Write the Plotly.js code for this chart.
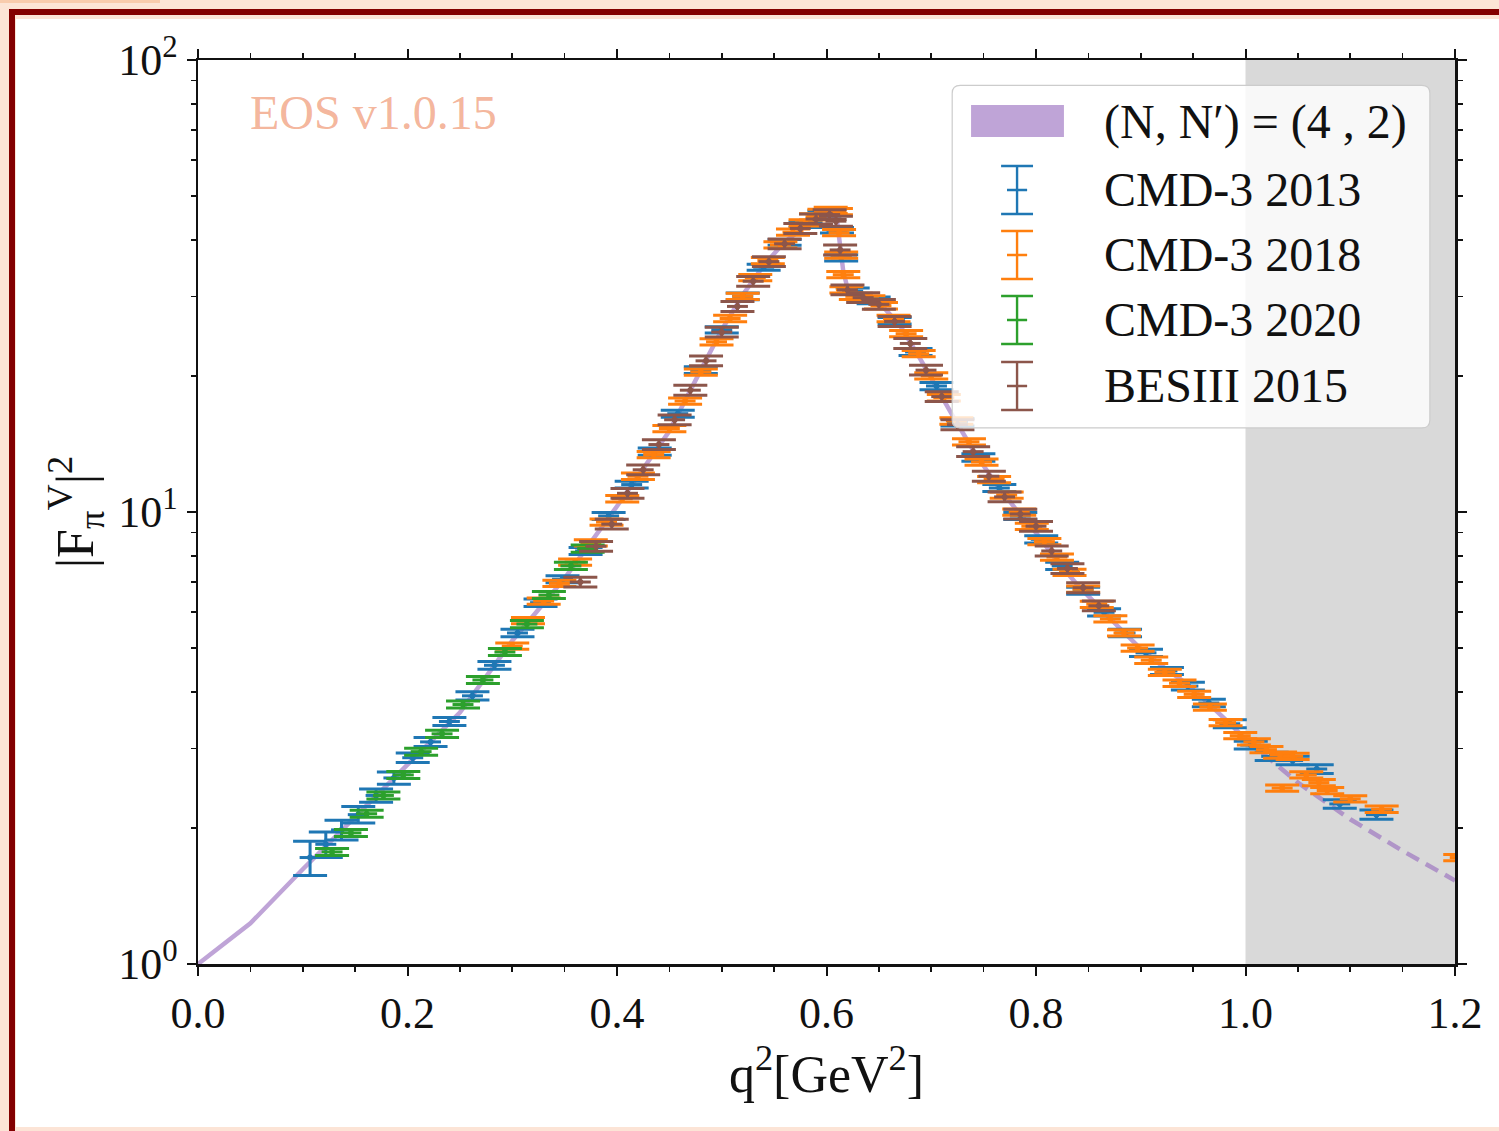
<!DOCTYPE html>
<html>
<head>
<meta charset="utf-8">
<script src="https://cdn.plot.ly/plotly-3.0.1.min.js"></script>
<style>
  html, body { margin:0; padding:0; width:1499px; height:1131px; background:#FCE4D6; overflow:hidden; }
  #strip { position:absolute; left:0; top:0; width:160px; height:3px; background:#F8CBAD; }
  #ftop { position:absolute; left:9px; top:9px; width:1490px; height:6px; background:#830000; }
  #fleft { position:absolute; left:9px; top:9px; width:6px; height:1122px; background:#830000; }
  #plot { position:absolute; left:16px; top:19px; width:1483px; height:1108px; background:#fff; }
</style>
</head>
<body>
<div id="strip"></div>
<div id="ftop"></div>
<div id="fleft"></div>
<div id="plot"></div>
<script>
// ---------------- data ----------------
// model curve (N,N') = (4,2)
const modelQ = [0, 0.05, 0.1, 0.15, 0.2, 0.25, 0.3, 0.35, 0.4, 0.45, 0.46, 0.48, 0.5, 0.52, 0.54, 0.56, 0.58, 0.6, 0.605, 0.61, 0.613, 0.616, 0.62, 0.63, 0.65, 0.67, 0.69, 0.72, 0.74, 0.76, 0.78, 0.8, 0.82, 0.84, 0.86, 0.88, 0.9, 0.92, 0.94, 0.96, 0.98, 1.0];
const modelF = [1.0, 1.23, 1.62, 2.12, 2.76, 3.60, 5.19, 7.13, 10.3, 15.1, 16.7, 20.6, 25.3, 30.2, 35.1, 39.6, 42.9, 45.2, 45.6, 44.2, 39.0, 34.1, 31.3, 30.5, 29.1, 25.9, 21.7, 16.4, 13.7, 11.7, 10.2, 9.0, 7.8, 6.88, 6.15, 5.53, 4.98, 4.57, 4.23, 3.86, 3.49, 3.15];
// extrapolation (dashed)
const extQ = [1.0, 1.05, 1.1, 1.15, 1.2];
const extF = [3.15, 2.52, 2.09, 1.78, 1.53];

// CMD-3 2013
const cmd13Q = [0.107, 0.122, 0.137, 0.153, 0.170, 0.187, 0.205, 0.222, 0.240, 0.262, 0.283, 0.305, 0.327, 0.348, 0.370, 0.392, 0.414, 0.436, 0.458, 0.480, 0.500, 0.520, 0.540, 0.560, 0.580, 0.598, 0.610, 0.614, 0.625, 0.645, 0.665, 0.685, 0.705, 0.725, 0.745, 0.765, 0.785, 0.805, 0.825, 0.845, 0.865, 0.885, 0.905, 0.925, 0.945, 0.965, 0.985, 1.005, 1.025, 1.045, 1.068, 1.090, 1.125];
const cmd13F = [1.72, 1.84, 1.98, 2.14, 2.36, 2.58, 2.86, 3.10, 3.44, 3.92, 4.58, 5.40, 6.30, 7.10, 8.20, 9.80, 11.5, 13.6, 16.5, 20.6, 25.3, 30.0, 34.8, 39.5, 43.2, 45.8, 42.0, 36.5, 30.8, 29.4, 26.5, 22.6, 19.0, 15.8, 13.2, 11.3, 9.8, 8.7, 7.6, 6.7, 6.0, 5.4, 4.88, 4.45, 4.12, 3.78, 3.40, 3.05, 2.88, 2.82, 2.70, 2.26, 2.14];
const cmd13E = [0.15, 0.12, 0.10, 0.09, 0.08, 0.08, 0.07, 0.07, 0.07, 0.08, 0.09, 0.10, 0.12, 0.13, 0.15, 0.18, 0.2, 0.25, 0.3, 0.35, 0.4, 0.5, 0.55, 0.6, 0.6, 0.6, 0.6, 0.6, 0.5, 0.5, 0.45, 0.4, 0.35, 0.3, 0.25, 0.2, 0.18, 0.16, 0.14, 0.12, 0.11, 0.1, 0.09, 0.08, 0.08, 0.07, 0.07, 0.06, 0.06, 0.06, 0.06, 0.05, 0.05];

// CMD-3 2018
const cmd18Q = [0.300, 0.315, 0.330, 0.345, 0.360, 0.375, 0.390, 0.405, 0.420, 0.435, 0.450, 0.465, 0.480, 0.495, 0.508, 0.520, 0.532, 0.544, 0.556, 0.568, 0.580, 0.590, 0.598, 0.604, 0.609, 0.612, 0.614, 0.616, 0.619, 0.628, 0.640, 0.652, 0.664, 0.676, 0.688, 0.700, 0.712, 0.724, 0.736, 0.748, 0.760, 0.772, 0.784, 0.796, 0.808, 0.820, 0.832, 0.845, 0.858, 0.871, 0.884, 0.897, 0.910, 0.923, 0.937, 0.951, 0.966, 0.981, 0.995, 1.008, 1.020, 1.033, 1.035, 1.045, 1.058, 1.070, 1.078, 1.100, 1.130, 1.205];
const cmd18F = [5.05, 5.75, 6.35, 6.95, 7.75, 8.55, 9.50, 10.7, 12.0, 13.4, 15.3, 17.6, 20.4, 23.8, 26.8, 30.0, 33.0, 36.0, 39.0, 41.6, 43.6, 45.0, 46.0, 46.5, 46.2, 41.5, 37.0, 33.5, 31.0, 30.0, 29.6, 28.6, 26.8, 24.8, 22.4, 20.0, 17.9, 15.9, 14.3, 12.9, 11.8, 10.9, 10.0, 9.3, 8.6, 7.95, 7.35, 6.75, 6.25, 5.80, 5.40, 5.00, 4.70, 4.42, 4.18, 3.95, 3.70, 3.42, 3.20, 3.10, 2.98, 2.90, 2.45, 2.88, 2.62, 2.52, 2.42, 2.32, 2.20, 1.72];

// CMD-3 2020
const cmd20Q = [0.128, 0.146, 0.161, 0.177, 0.196, 0.213, 0.233, 0.253, 0.272, 0.293, 0.314, 0.335, 0.356, 0.372];
const cmd20F = [1.77, 1.95, 2.15, 2.36, 2.62, 2.95, 3.23, 3.75, 4.25, 4.90, 5.65, 6.55, 7.60, 8.30];

// BESIII 2015
const bes15Q = [0.365, 0.380, 0.395, 0.410, 0.425, 0.440, 0.455, 0.470, 0.485, 0.500, 0.515, 0.530, 0.545, 0.560, 0.575, 0.590, 0.603, 0.609, 0.613, 0.620, 0.635, 0.650, 0.665, 0.680, 0.695, 0.710, 0.725, 0.740, 0.755, 0.770, 0.785, 0.800, 0.815, 0.830, 0.845, 0.860];
const bes15F = [7.0, 8.4, 9.4, 11.0, 12.4, 14.1, 16.0, 18.6, 21.6, 25.0, 28.5, 32.4, 35.8, 39.2, 42.4, 44.5, 45.5, 44.0, 38.0, 31.0, 29.8, 28.8, 26.4, 23.6, 20.6, 18.0, 15.6, 13.6, 12.0, 10.8, 9.9, 9.3, 8.2, 7.5, 6.8, 6.2];

const shadeFrom = 1.0, shadeTo = 1.2;
const xTicks = [0.0, 0.2, 0.4, 0.6, 0.8, 1.0, 1.2];
const yTickVals = [1, 10, 100];
const yTickText = ['10<sup>0</sup>', '10<sup>1</sup>', '10<sup>2</sup>'];
const yMinor = [2,3,4,5,6,7,8,9,20,30,40,50,60,70,80,90];
const legendLabels = ["(N, N′) = (4 , 2)", 'CMD-3 2013', 'CMD-3 2018', 'CMD-3 2020', 'BESIII 2015'];

// ---------------- styling ----------------
const FONT = '"Liberation Serif", "DejaVu Serif", serif';
const purple = 'rgba(148,103,189,0.6)';
const sets = [
  {name:'CMD-3 2013', q:cmd13Q, f:cmd13F, err:{type:'data', array:cmd13E}, color:'#1f77b4'},
  {name:'CMD-3 2018', q:cmd18Q, f:cmd18F, err:{type:'percent', value:1.6}, color:'#ff7f0e'},
  {name:'CMD-3 2020', q:cmd20Q, f:cmd20F, err:{type:'percent', value:1.8}, color:'#2ca02c'},
  {name:'BESIII 2015', q:bes15Q, f:bes15F, err:{type:'percent', value:2.5}, color:'#8c564b'}
];

const traces = [
  {type:'scatter', mode:'lines', x:modelQ, y:modelF, line:{color:purple, width:4.5}, showlegend:false, hoverinfo:'skip'},
  {type:'scatter', mode:'lines', x:extQ, y:extF, line:{color:purple, width:4.5, dash:'14px,8px'}, showlegend:false, hoverinfo:'skip'}
];
sets.forEach(s => {
  traces.push({
    type:'scatter', mode:'markers', name:s.name, x:s.q, y:s.f,
    marker:{size:0, color:s.color},
    error_y:Object.assign({visible:true, color:s.color, thickness:3, width:17}, s.err),
    error_x:{visible:true, type:'constant', value:0.01, color:s.color, thickness:3, width:0},
    showlegend:false
  });
});

// legend (drawn in plot-area fraction coordinates)
const L = {x0:0.600, x1:0.980, y0:0.593, y1:0.972, rx:0.0064, ry:0.0088};
function roundRect(b){
  return `M ${b.x0+b.rx},${b.y0} L ${b.x1-b.rx},${b.y0} Q ${b.x1},${b.y0} ${b.x1},${b.y0+b.ry} L ${b.x1},${b.y1-b.ry} Q ${b.x1},${b.y1} ${b.x1-b.rx},${b.y1} L ${b.x0+b.rx},${b.y1} Q ${b.x0},${b.y1} ${b.x0},${b.y1-b.ry} L ${b.x0},${b.y0+b.ry} Q ${b.x0},${b.y0} ${b.x0+b.rx},${b.y0} Z`;
}
const rowY = [0.9314, 0.8562, 0.7843, 0.7124, 0.6394];
const gx = 0.6516, capW = 0.0127, midW = 0.008, halfH = 0.0265;
const shapes = [
  {type:'rect', xref:'x', yref:'paper', x0:shadeFrom, x1:shadeTo, y0:0, y1:1, fillcolor:'#D9D9D9', line:{width:0}, layer:'below'},
  {type:'path', xref:'paper', yref:'paper', path:roundRect(L), fillcolor:'rgba(255,255,255,0.8)', line:{color:'#CCCCCC', width:1.2}, layer:'above'},
  {type:'rect', xref:'paper', yref:'paper', x0:0.6150, x1:0.6889, y0:0.9148, y1:0.9502, fillcolor:purple, line:{width:0}, layer:'above'}
];
sets.forEach((s, i) => {
  const y = rowY[i+1];
  shapes.push({type:'path', xref:'paper', yref:'paper', layer:'above', line:{color:s.color, width:2.4},
    path:`M ${gx-capW},${y+halfH} L ${gx+capW},${y+halfH} M ${gx},${y+halfH} L ${gx},${y-halfH} M ${gx-capW},${y-halfH} L ${gx+capW},${y-halfH} M ${gx-midW},${y} L ${gx+midW},${y}`});
});
const annotations = legendLabels.map((t, i) => ({
  xref:'paper', yref:'paper', x:0.7192, y:rowY[i], xanchor:'left', yanchor:'middle', showarrow:false,
  text:t, font:{family:FONT, size:48, color:'#111'}
}));
annotations.push({xref:'paper', yref:'paper', x:0.040, y:0.9414, xanchor:'left', yanchor:'middle', showarrow:false,
  text:'EOS v1.0.15', font:{family:FONT, size:48, color:'rgba(238,140,100,0.65)'}});

const layout = {
  width:1483, height:1108,
  margin:{l:182, r:44, t:41, b:163},
  paper_bgcolor:'#ffffff', plot_bgcolor:'#ffffff',
  font:{family:FONT, size:44, color:'#111'},
  showlegend:false,
  xaxis:{
    range:[0, 1.2], tickmode:'array', tickvals:xTicks, tickformat:'.1f',
    showgrid:false, zeroline:false, showline:true, linecolor:'#111', linewidth:2.5, mirror:'ticks',
    ticks:'outside', ticklen:9, tickwidth:2, tickcolor:'#111',
    minor:{dtick:0.05, tick0:0, ticks:'outside', ticklen:5, tickwidth:1.6, tickcolor:'#111', showgrid:false},
    tickfont:{family:FONT, size:44},
    title:{text:'q<sup>2</sup>[GeV<sup>2</sup>]', font:{family:FONT, size:52}, standoff:14}
  },
  yaxis:{
    type:'log', range:[0, 2], tickmode:'array', tickvals:yTickVals, ticktext:yTickText,
    showgrid:false, zeroline:false, showline:true, linecolor:'#111', linewidth:2.5, mirror:'ticks',
    ticks:'outside', ticklen:9, tickwidth:2, tickcolor:'#111',
    minor:{tickmode:'array', tickvals:yMinor, ticks:'outside', ticklen:5, tickwidth:1.6, tickcolor:'#111', showgrid:false},
    tickfont:{family:FONT, size:44},
    title:{text:'|F<sub>π</sub><sup>V</sup>|<sup>2</sup>', font:{family:FONT, size:52}, standoff:8}
  },
  shapes:shapes,
  annotations:annotations
};
Plotly.newPlot('plot', traces, layout, {staticPlot:true, displayModeBar:false});
</script>
</body>
</html>
